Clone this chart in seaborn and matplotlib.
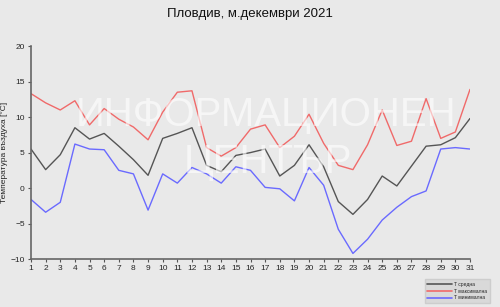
import matplotlib
matplotlib.use("Agg")
import matplotlib.pyplot as plt
import seaborn as sns
import pandas as pd

days = list(range(1, 32))
t_max = [13.3, 12.0, 11.0, 12.3, 8.9, 11.2, 9.7, 8.6, 6.8, 10.7, 13.5, 13.7, 5.7, 4.5, 5.7, 8.3,
         8.9, 5.7, 7.3, 10.4, 6.3, 3.2, 2.6, 6.1, 11.0, 6.0, 6.6, 12.6, 7.0, 7.9, 13.9]
t_mean = [5.5, 2.6, 4.7, 8.5, 6.9, 7.7, 5.9, 4.0, 1.8, 7.0, 7.7, 8.5, 3.2, 2.3, 4.6, 5.0,
          5.5, 1.7, 3.2, 6.1, 3.0, -1.9, -3.7, -1.6, 1.7, 0.3, 3.1, 5.9, 6.1, 7.1, 9.8]
t_min = [-1.6, -3.4, -2.0, 6.2, 5.5, 5.4, 2.5, 2.0, -3.1, 2.0, 0.7, 2.9, 2.0, 0.7, 3.0, 2.5,
         0.1, -0.1, -1.8, 2.9, 0.4, -5.8, -9.2, -7.2, -4.5, -2.7, -1.2, -0.4, 5.5, 5.7, 5.5]
labels = ["T средна", "T максимална", "T минимална"]
title = "Пловдив, м.декември 2021"
ylabel = "Температура въздуха [°C]"

bg = "#e9e9e9"
sns.set_theme(style="white")
plt.rcParams["font.family"] = ["Liberation Sans", "DejaVu Sans"]

df = pd.DataFrame({"day": days * 3,
                   "temp": t_mean + t_max + t_min,
                   "series": [labels[0]] * 31 + [labels[1]] * 31 + [labels[2]] * 31})

fig = plt.figure(figsize=(5.0, 3.07), dpi=100, facecolor=bg)
ax = fig.add_axes([0.062, 0.156, 0.878, 0.694])
ax.set_facecolor(bg)

palette = {labels[0]: "#555555", labels[1]: "#f06a6a", labels[2]: "#6a6aff"}
sns.lineplot(data=df, x="day", y="temp", hue="series", palette=palette,
             linewidth=1.0, ax=ax, legend=False)

ax.set_xlim(1, 31)
ax.set_ylim(-10, 20)
ax.set_xticks(days)
ax.set_yticks(range(-10, 21, 5))
ax.tick_params(axis="both", labelsize=6, length=2.5, width=0.8, color="#555555",
               pad=2, direction="out", bottom=True, left=True)
for s in ["top", "right"]:
    ax.spines[s].set_visible(False)
for s in ["left", "bottom"]:
    ax.spines[s].set_color("#666666")
    ax.spines[s].set_linewidth(1.2)
ax.set_xlabel("")
ax.set_ylabel(ylabel, fontsize=6)
ax.yaxis.set_label_coords(-0.052, 0.5)

fig.text(0.5, 0.955, title, ha="center", va="center", fontsize=9.5, color="#111111")

# watermark
fig.text(0.532, 0.625, "ИНФОРМАЦИОНЕН", ha="center", va="center", fontsize=29,
         color="white", alpha=0.6, zorder=5)
fig.text(0.536, 0.472, "ЦЕНТЪР", ha="center", va="center", fontsize=29,
         color="white", alpha=0.6, zorder=5)

# legend
from matplotlib.lines import Line2D
handles = [Line2D([], [], color=palette[l], lw=1.2) for l in labels]
leg = fig.legend(handles, labels, loc="lower right", bbox_to_anchor=(0.985, 0.005),
                 fontsize=3.6, frameon=True, handlelength=5, handletextpad=0.4,
                 labelspacing=0.35, borderpad=0.5, fancybox=False)
leg.get_frame().set_facecolor("#d6d6d6")
leg.get_frame().set_edgecolor("#c8c8c8")

fig.savefig("out.png", dpi=100, facecolor=bg)
